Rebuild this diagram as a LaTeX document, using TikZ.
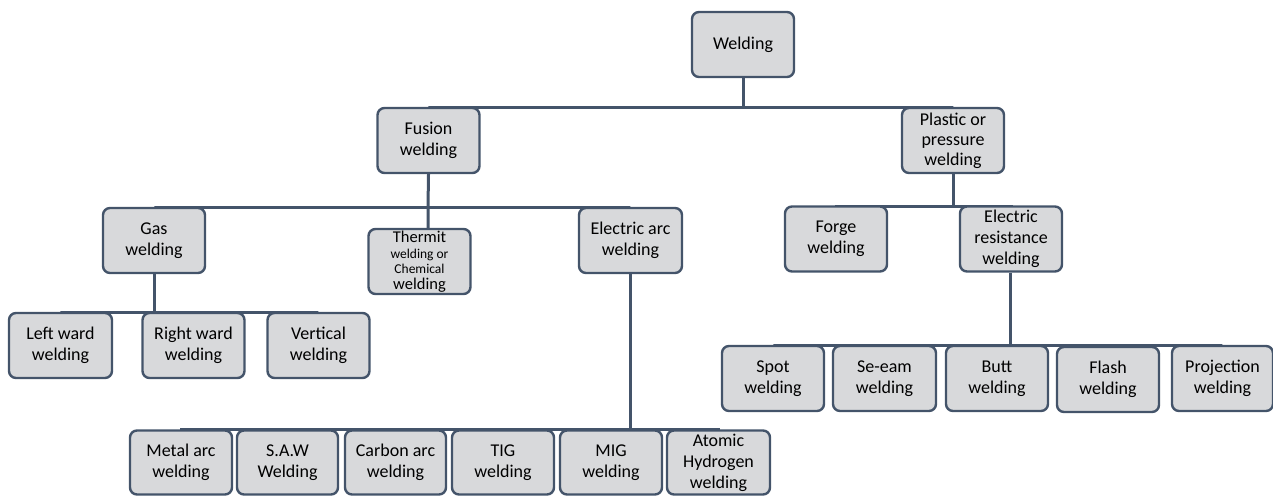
\documentclass[tikz,border=0pt]{standalone}
\usepackage{fontspec}
\setmainfont{Carlito}
\usetikzlibrary{backgrounds}
\definecolor{lineC}{HTML}{44546A}
\definecolor{boxC}{HTML}{D8D9DB}
\begin{document}
\begin{tikzpicture}[x=1pt,y=-1pt,
  box/.style={draw=lineC, fill=boxC, line width=2.4pt, rounded corners=7pt,
    inner sep=0pt, align=center, text=black,
    font=\fontsize{18}{21}\selectfont, minimum width=102, minimum height=65},
  conn/.style={draw=lineC, line width=3pt}]
\useasboundingbox (0,0) rectangle (1273,495);
% level 0
\node[box] (w) at (743,44.5) {Welding};
% level 1
\node[box] (fus) at (428.5,140.5) {Fusion\\welding};
\node[box, font=\fontsize{18}{20}\selectfont] (pl) at (953,140.5) {Plastic or\\pressure\\welding};
% fusion children
\node[box] (gas) at (154,240.5) {Gas\\welding};
\node[box, font=\fontsize{13.5}{15.5}\selectfont] (thm) at (419.5,261.5) {{\fontsize{16.5}{15.5}\selectfont Thermit}\\welding or\\Chemical\\{\fontsize{16.5}{15.5}\selectfont welding}};
\node[box, minimum width=103] (ea) at (630.5,240.5) {Electric arc\\welding};
% gas children
\node[box, minimum width=103] (lw) at (60.5,345.5) {Left ward\\welding};
\node[box] (rw) at (193.5,345.5) {Right ward\\welding};
\node[box] (vw) at (318.5,345.5) {Vertical\\welding};
% electric arc children
\node[box, minimum height=64] (ma) at (181,462.5) {Metal arc\\welding};
\node[box, minimum width=101, minimum height=64] (saw) at (287.5,462.5) {S.A.W\\Welding};
\node[box, minimum width=101, minimum height=64] (ca) at (395.5,462.5) {Carbon arc\\welding};
\node[box, minimum height=64] (tig) at (503,462.5) {TIG\\welding};
\node[box, minimum height=64] (mig) at (611,462.5) {MIG\\welding};
\node[box, minimum width=103, minimum height=64] (at) at (718.5,462.5) {Atomic\\Hydrogen\\welding};
% plastic children
\node[box] (fg) at (836,239) {Forge\\welding};
\node[box] (er) at (1011,239) {Electric\\resistance\\welding};
% electric resistance children
\node[box] (sp) at (773,378.5) {Spot\\welding};
\node[box, minimum width=103] (se) at (884.5,378.5) {Se-eam\\welding};
\node[box] (bt) at (997,378.5) {Butt\\welding};
\node[box] (fl) at (1108,379.5) {Flash\\welding};
\node[box, minimum width=101] (pj) at (1222.5,378.5) {Projection\\welding};
% bus coordinates
\coordinate (b1) at (743,107);
\coordinate (b2) at (428,207);
\coordinate (b3) at (154,312);
\coordinate (b4) at (630,429);
\coordinate (b5) at (953,206);
\coordinate (b6) at (1010,345);
\begin{scope}[on background layer]
\draw[conn] (w.south) -- (b1);
\draw[conn] (fus.north) |- (b1) -| (pl.north);
\draw[conn] (fus.south) -- (b2) -- (b2 |- thm.north);
\draw[conn] (gas.north) |- (b2) -| (ea.north);
\draw[conn] (gas.south) -- (b3);
\draw[conn] (lw.north) |- (b3) -| (vw.north);
\draw[conn] (rw.north) -- (rw.north |- b3);
\draw[conn] (ea.south -| b4) -- (b4);
\draw[conn] (ma.north) |- (b4) -| (at.north);
\draw[conn] (saw.north) -- (saw.north |- b4);
\draw[conn] (ca.north) -- (ca.north |- b4);
\draw[conn] (tig.north) -- (tig.north |- b4);
\draw[conn] (mig.north) -- (mig.north |- b4);
\draw[conn] (pl.south) -- (b5);
\draw[conn] (fg.north) |- (b5) -| (er.north);
\draw[conn] (er.south -| b6) -- (b6);
\draw[conn] (sp.north) |- (b6) -| (pj.north);
\draw[conn] (se.north) -- (se.north |- b6);
\draw[conn] (bt.north) -- (bt.north |- b6);
\draw[conn] (fl.north) -- (fl.north |- b6);
\end{scope}
\end{tikzpicture}
\end{document}
